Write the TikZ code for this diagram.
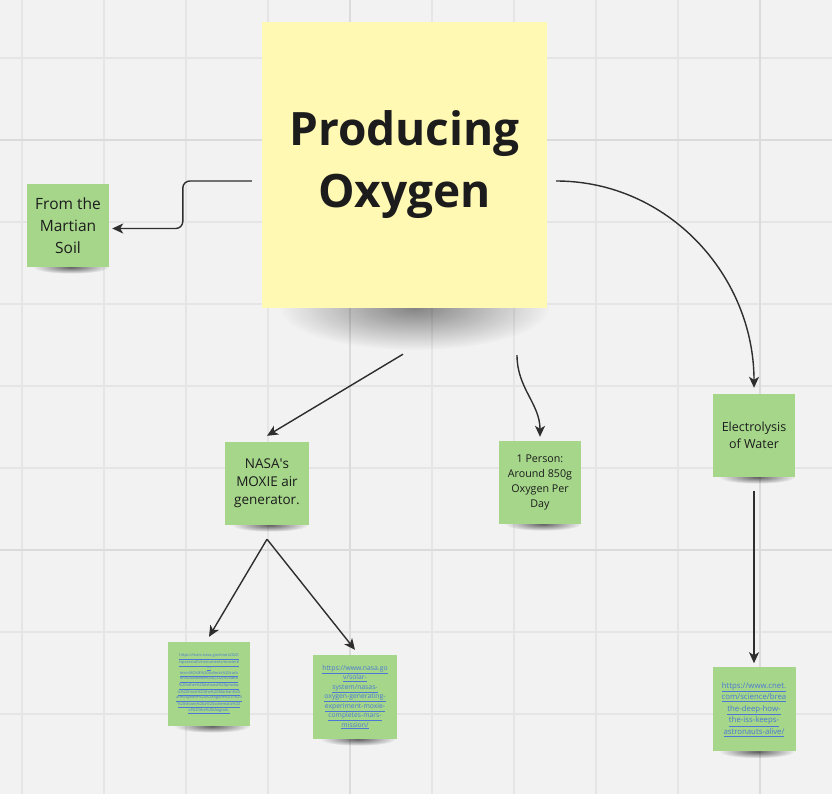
\documentclass[tikz,border=0pt]{standalone}
\usepackage{fontspec}
\setmainfont{Open Sans}
\usetikzlibrary{positioning,fadings,arrows.meta}
\definecolor{paperbg}{HTML}{F2F2F2}
\definecolor{gridln}{HTML}{E5E5E5}
\definecolor{gridmj}{HTML}{DBDBDB}
\definecolor{notey}{HTML}{FFF9B3}
\definecolor{noteg}{HTML}{A5D68A}
\definecolor{linkcol}{HTML}{4A78D2}
\definecolor{arrcol}{HTML}{2E2E2E}
\definecolor{inkcol}{HTML}{1C1C1C}
\tikzset{>={Stealth[length=11pt,width=10pt,inset=3pt]}}
\tikzfading[name=shadefade, inner color=transparent!0, outer color=transparent!100]
\pgfdeclarelayer{paper}
\pgfdeclarelayer{shade}
\pgfsetlayers{paper,shade,main}
\newcommand{\urlln}[1]{\underline{#1}}
\tikzset{
  bignote/.style={fill=notey,minimum width=285pt,minimum height=286pt,align=center,text=inkcol,font=\bfseries\fontsize{46}{62}\selectfont},
  sticky/.style={fill=noteg,minimum width=82pt,minimum height=83pt,inner sep=1pt,align=center,text=inkcol},
  urlnote/.style={sticky,text=linkcol},
  link/.style={->,arrcol,line width=1.4pt},
  noteshadow/.style={fill=black,opacity=0.6,path fading=shadefade},
}

\begin{document}
\begin{tikzpicture}[x=1pt,y=1pt]
    \useasboundingbox (0,0) rectangle (832,-794);
    % board
    \begin{pgfonlayer}{paper}
      \fill[paperbg] (0,0) rectangle (832,-794);
      \foreach \gx in {22,104,...,800} \draw[gridln,line width=1.2pt] (\gx,0) -- (\gx,-794);
      \foreach \gy in {58,140,...,794} \draw[gridln,line width=1.2pt] (0,-\gy) -- (832,-\gy);
      \foreach \gx in {350,760} \draw[gridmj,line width=2pt] (\gx,0) -- (\gx,-794);
      \foreach \gy in {140,550} \draw[gridmj,line width=2pt] (0,-\gy) -- (832,-\gy);
    \end{pgfonlayer}
    % notes
    \node[bignote] (title) at (404.5,-165) {Producing\\Oxygen};
    \node[sticky,font=\fontsize{15.5}{22}\selectfont] (soil) at (68,-225.5) {From the\\Martian\\Soil};
    \node[sticky,font=\fontsize{12.5}{17.5}\selectfont] (electro) at (754,-435.5) {Electrolysis\\of Water};
    \node[sticky,font=\fontsize{10.7}{15}\selectfont] (person) at (540,-482.5) {1 Person:\\Around 850g\\Oxygen Per\\Day};
    \node[sticky,minimum width=84pt,font=\fontsize{13.5}{18}\selectfont] (moxie) at (267,-483.5) {NASA\textquotesingle s\\MOXIE air\\generator.};
    \node[urlnote,minimum height=84pt,font=\fontsize{3.9}{5.4}\selectfont] (marslink) at (209,-684) {\urlln{https://mars.nasa.gov/mars2020}\\\urlln{/spacecraft/instruments/moxie/\#}\\\urlln{:\textasciitilde:}\\\urlln{text=MOXIE\%20collects\%20carb}\\\urlln{on\%20dioxide\%20(CO2)\%20and}\\\urlln{\%20other\%20exhaust\%20produc}\\\urlln{ts\%20from\%20the\%20Martian\%20}\\\urlln{atmosphere\%20\%28figure\%201\%29}\\\urlln{\%20shows\%20a\%20schematic\%20}\\\urlln{of\%20the\%20diagram.}};
    \node[urlnote,minimum width=84pt,minimum height=84pt,font=\fontsize{6.8}{9.5}\selectfont] (nasalink) at (355,-697) {\urlln{https://www.nasa.go}\\\urlln{v/solar-}\\\urlln{system/nasas-}\\\urlln{oxygen-generating-}\\\urlln{experiment-moxie-}\\\urlln{completes-mars-}\\\urlln{mission/}};
    \node[urlnote,below=190pt of electro,minimum width=83pt,minimum height=84pt,font=\fontsize{7.8}{11.5}\selectfont] (cnet) {\urlln{https://www.cnet.}\\\urlln{com/science/brea}\\\urlln{the-deep-how-}\\\urlln{the-iss-keeps-}\\\urlln{astronauts-alive/}};
    % shadows under the notes
    \begin{pgfonlayer}{shade}
      \fill[noteshadow,opacity=0.45] ([xshift=10pt]title.south) ellipse [x radius=135pt,y radius=42pt];
      \foreach \n in {soil,electro,person,moxie,marslink,nasalink,cnet}
        \fill[noteshadow] ([xshift=3pt]\n.south) ellipse [x radius=38pt,y radius=6.5pt];
    \end{pgfonlayer}
    % connectors
    \draw[link,rounded corners=7pt] ([xshift=-10pt,yshift=-16pt]title.west) -- ++(-69,0) |- ([xshift=3pt,yshift=-3pt]soil.east);
    \draw[link] ([xshift=9pt,yshift=-16pt]title.east) to[out=0,in=90] ([yshift=6pt]electro.north);
    \draw[link] ([xshift=-1.5pt,yshift=-46pt]title.south) -- ([yshift=6pt]moxie.north);
    \draw[link] ([xshift=112.5pt,yshift=-47pt]title.south) to[out=-90,in=90] ([yshift=4pt]person.north);
    \draw[link] ([yshift=-14pt]moxie.south) -- ([yshift=5pt]marslink.north);
    \draw[link] ([yshift=-14pt]moxie.south) -- ([yshift=5pt]nasalink.north);
    \draw[link] ([yshift=-14pt]electro.south) -- ([yshift=4pt]cnet.north);
\end{tikzpicture}
\end{document}
